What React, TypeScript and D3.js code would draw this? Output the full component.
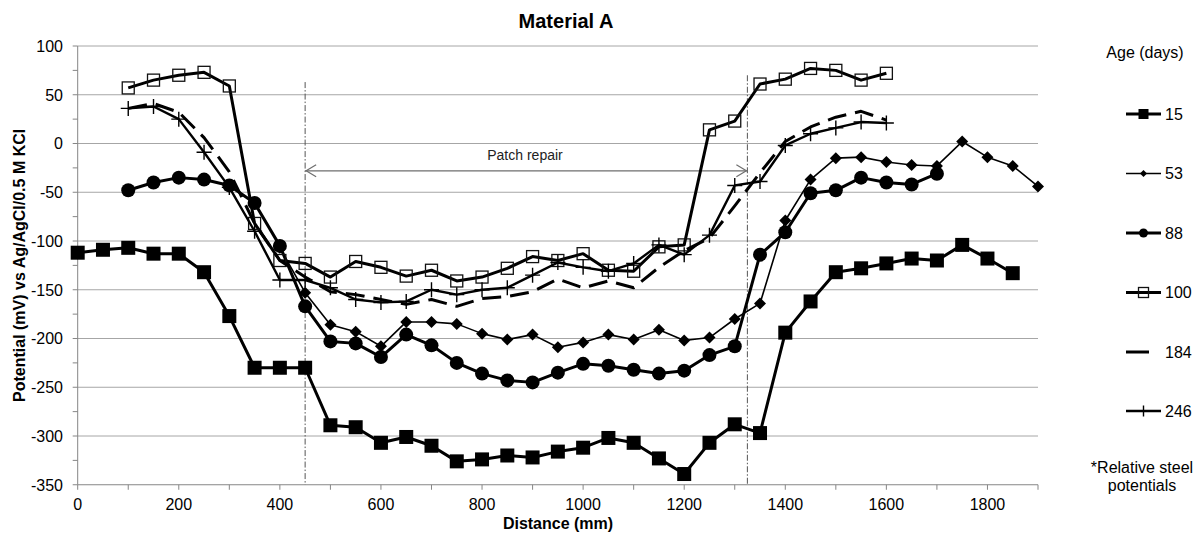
import * as d3 from 'd3';
import React from 'react';

// distance along the slab (mm)
const distance = [
  0, 50, 100, 150, 200, 250, 300, 350, 400, 450, 500, 550, 600, 650, 700, 750, 800, 850, 900, 950,
  1000, 1050, 1100, 1150, 1200, 1250, 1300, 1350, 1400, 1450, 1500, 1550, 1600, 1650, 1700, 1750,
  1800, 1850, 1900
];

type V = number | null;
const _ = null;

const age15: V[] = [
  -112, -109, -107, -113, -113, -132, -177, -230, -230, -230, -289, -291, -307, -301, -310, -326,
  -324, -320, -322, -316, -312, -302, -307, -323, -339, -307, -288, -297, -194, -162, -132, -128,
  -123, -118, -120, -104, -118, -133, _
];
const age53: V[] = [
  _, _, _, _, _, _, _, _, -107, -153, -186, -193, -208, -183, -183, -185, -195, -201, -196, -209,
  -204, -196, -201, -191, -202, -199, -180, -164, -79, -37, -15, -14, -19, -22, -23, 2, -14, -23, -44
];
const age88: V[] = [
  _, _, -48, -40, -35, -37, -43, -61, -105, -167, -203, -205, -219, -196, -207, -225, -236, -243,
  -245, -235, -226, -228, -232, -236, -233, -217, -208, -114, -91, -51, -48, -35, -40, -42, -31, _,
  _, _, _
];
const age100: V[] = [
  _, _, 57, 65, 70, 73, 59, -82, -120, -123, -137, -121, -127, -136, -130, -141, -137, -128, -116,
  -120, -113, -130, -131, -106, -104, 14, 23, 61, 66, 77, 75, 65, 72, _, _, _, _, _, _
];
const age184: V[] = [
  _, _, 36, 41, 32, 6, -29, -82, -120, -137, -152, -155, -160, -165, -160, -167, -159, -157, -152,
  -139, -148, -141, -148, -127, -110, -97, -64, -30, 2, 17, 27, 33, 24, _, _, _, _, _, _
];
const age246: V[] = [
  _, _, 36, 38, 25, -9, -45, -90, -140, -140, -148, -160, -163, -162, -150, -155, -150, -148, -135,
  -122, -127, -131, -123, -104, -114, -94, -43, -39, -2, 10, 16, 22, 21, _, _, _, _, _, _
];

const yTicks = [-350, -300, -250, -200, -150, -100, -50, 0, 50, 100];
const xTicks = [0, 200, 400, 600, 800, 1000, 1200, 1400, 1600, 1800];

// patch repair zone
const patchStart = 450;
const patchEnd = 1325;

type Marker = 'square' | 'diamond' | 'circle' | 'open' | 'none' | 'plus';

const series: { label: string; values: V[]; marker: Marker; width: number; dash?: string }[] = [
  { label: '15', values: age15, marker: 'square', width: 3 },
  { label: '53', values: age53, marker: 'diamond', width: 1.6 },
  { label: '88', values: age88, marker: 'circle', width: 3 },
  { label: '100', values: age100, marker: 'open', width: 3 },
  { label: '184', values: age184, marker: 'none', width: 3, dash: '19,9' },
  { label: '246', values: age246, marker: 'plus', width: 2.4 }
];

const FONT = '"Liberation Sans", Arial, sans-serif';

const x = d3.scaleLinear().domain([0, 1900]).range([77.7, 1038]);
const y = d3.scaleLinear().domain([-350, 100]).range([484.75, 46]);

const drawMarker = (m: Marker, cx: number, cy: number, s: number, key: string | number) => {
  if (m === 'square') {
    return <rect key={key} x={cx - s / 2} y={cy - s / 2} width={s} height={s} fill="#000" />;
  }
  if (m === 'open') {
    return (
      <rect key={key} x={cx - s / 2} y={cy - s / 2} width={s} height={s} fill="none" stroke="#111" strokeWidth={1.3} />
    );
  }
  if (m === 'circle') {
    return <circle key={key} cx={cx} cy={cy} r={s / 2} fill="#000" />;
  }
  if (m === 'diamond') {
    const h = s / 2;
    return <path key={key} d={`M${cx},${cy - h}L${cx + h},${cy}L${cx},${cy + h}L${cx - h},${cy}Z`} fill="#000" />;
  }
  if (m === 'plus') {
    const h = s / 2;
    return (
      <path key={key} d={`M${cx - h},${cy}H${cx + h}M${cx},${cy - h}V${cy + h}`} stroke="#000" strokeWidth={1.4} fill="none" />
    );
  }
  return null;
};

const markerSize: Record<Marker, number> = {
  square: 14,
  diamond: 12,
  circle: 14,
  open: 12,
  none: 0,
  plus: 15
};

const legendSize: Record<Marker, number> = {
  square: 10,
  diamond: 7,
  circle: 9,
  open: 10,
  none: 0,
  plus: 11
};

const App = () => {
  const line = d3
    .line<V>()
    .defined((d) => d !== null)
    .x((_d, i) => x(distance[i]))
    .y((d) => y(d as number));

  const minorY = d3.range(-350, 101, 25);
  const minorX = d3.range(0, 1901, 100);

  const arrowY = y(-28);
  const ax1 = x(patchStart);
  const ax2 = x(patchEnd);

  const legendY = [114, 173.5, 233, 292.5, 352, 411];

  return (
    <svg
      width={1199}
      height={535}
      style={{ position: 'absolute', left: 0, top: 0, background: '#fff' }}
      fontFamily={FONT}
    >
      <rect width={1199} height={535} fill="#fff" />

      {/* gridlines */}
      {yTicks
        .filter((t) => t !== -350)
        .map((t) => (
          <line key={t} x1={x(0)} x2={x(1900)} y1={y(t)} y2={y(t)} stroke="#a6a6a6" strokeWidth={1} />
        ))}

      {/* axes */}
      <line x1={x(0)} x2={x(0)} y1={y(100)} y2={y(-350)} stroke="#868686" />
      <line x1={x(0)} x2={x(1900)} y1={y(-350)} y2={y(-350)} stroke="#868686" />
      {minorY.map((t) => (
        <line key={t} x1={x(0) - 5} x2={x(0)} y1={y(t)} y2={y(t)} stroke="#868686" />
      ))}
      {minorX.map((t) => (
        <line key={t} x1={x(t)} x2={x(t)} y1={y(-350)} y2={y(-350) + 5} stroke="#868686" />
      ))}

      {yTicks.map((t) => (
        <text key={t} x={63} y={y(t)} dy="0.36em" textAnchor="end" fontSize={16} fill="#000">
          {t}
        </text>
      ))}
      {xTicks.map((t) => (
        <text key={t} x={x(t)} y={510} textAnchor="middle" fontSize={16} fill="#000">
          {t}
        </text>
      ))}

      {/* patch repair markers */}
      <line x1={ax1} x2={ax1} y1={y(63)} y2={y(-350)} stroke="#555" strokeWidth={1} strokeDasharray="6,2,1.5,2" />
      <line x1={ax2} x2={ax2} y1={y(70)} y2={y(-350)} stroke="#555" strokeWidth={1} strokeDasharray="6,2,1.5,2" />
      <g stroke="#6e6e6e" strokeWidth={1.2} fill="none">
        <line x1={ax1} x2={ax2} y1={arrowY} y2={arrowY} />
        <path d={`M${ax1 + 11},${arrowY - 6}L${ax1 + 1},${arrowY}L${ax1 + 11},${arrowY + 6}`} />
        <path d={`M${ax2 - 11},${arrowY - 6}L${ax2 - 1},${arrowY}L${ax2 - 11},${arrowY + 6}`} />
      </g>
      <text x={525} y={160} textAnchor="middle" fontSize={14} fill="#222">
        Patch repair
      </text>

      {/* series */}
      {series.map((s) => (
        <g key={s.label}>
          <path
            d={line(s.values) || ''}
            fill="none"
            stroke="#000"
            strokeWidth={s.width}
            strokeDasharray={s.dash}
            strokeLinejoin="round"
          />
          {s.values.map((v, i) =>
            v === null ? null : drawMarker(s.marker, x(distance[i]), y(v), markerSize[s.marker], i)
          )}
        </g>
      ))}

      {/* titles */}
      <text x={566} y={28} textAnchor="middle" fontSize={20} fontWeight="bold">
        Material A
      </text>
      <text x={558} y={529} textAnchor="middle" fontSize={16} fontWeight="bold">
        Distance (mm)
      </text>
      <text
        transform={`translate(25, ${(y(100) + y(-350)) / 2}) rotate(-90)`}
        textAnchor="middle"
        fontSize={16}
        fontWeight="bold"
      >
        Potential (mV) vs Ag/AgCl/0.5 M KCl
      </text>

      {/* legend */}
      <text x={1145} y={58} textAnchor="middle" fontSize={16}>
        Age (days)
      </text>
      {series.map((s, i) => {
        const ly = legendY[i];
        return (
          <g key={s.label}>
            {s.marker === 'none' ? (
              <line x1={1126} x2={1149} y1={ly} y2={ly} stroke="#000" strokeWidth={3} />
            ) : (
              <line x1={1126} x2={1161} y1={ly} y2={ly} stroke="#000" strokeWidth={s.width} />
            )}
            {drawMarker(s.marker, 1143.5, ly, legendSize[s.marker], 'm')}
            <text x={1165} y={ly} dy="0.36em" fontSize={16}>
              {s.label}
            </text>
          </g>
        );
      })}
      <text x={1142} y={473} textAnchor="middle" fontSize={16}>
        *Relative steel
      </text>
      <text x={1142} y={491} textAnchor="middle" fontSize={16}>
        potentials
      </text>
    </svg>
  );
};

export default App;
